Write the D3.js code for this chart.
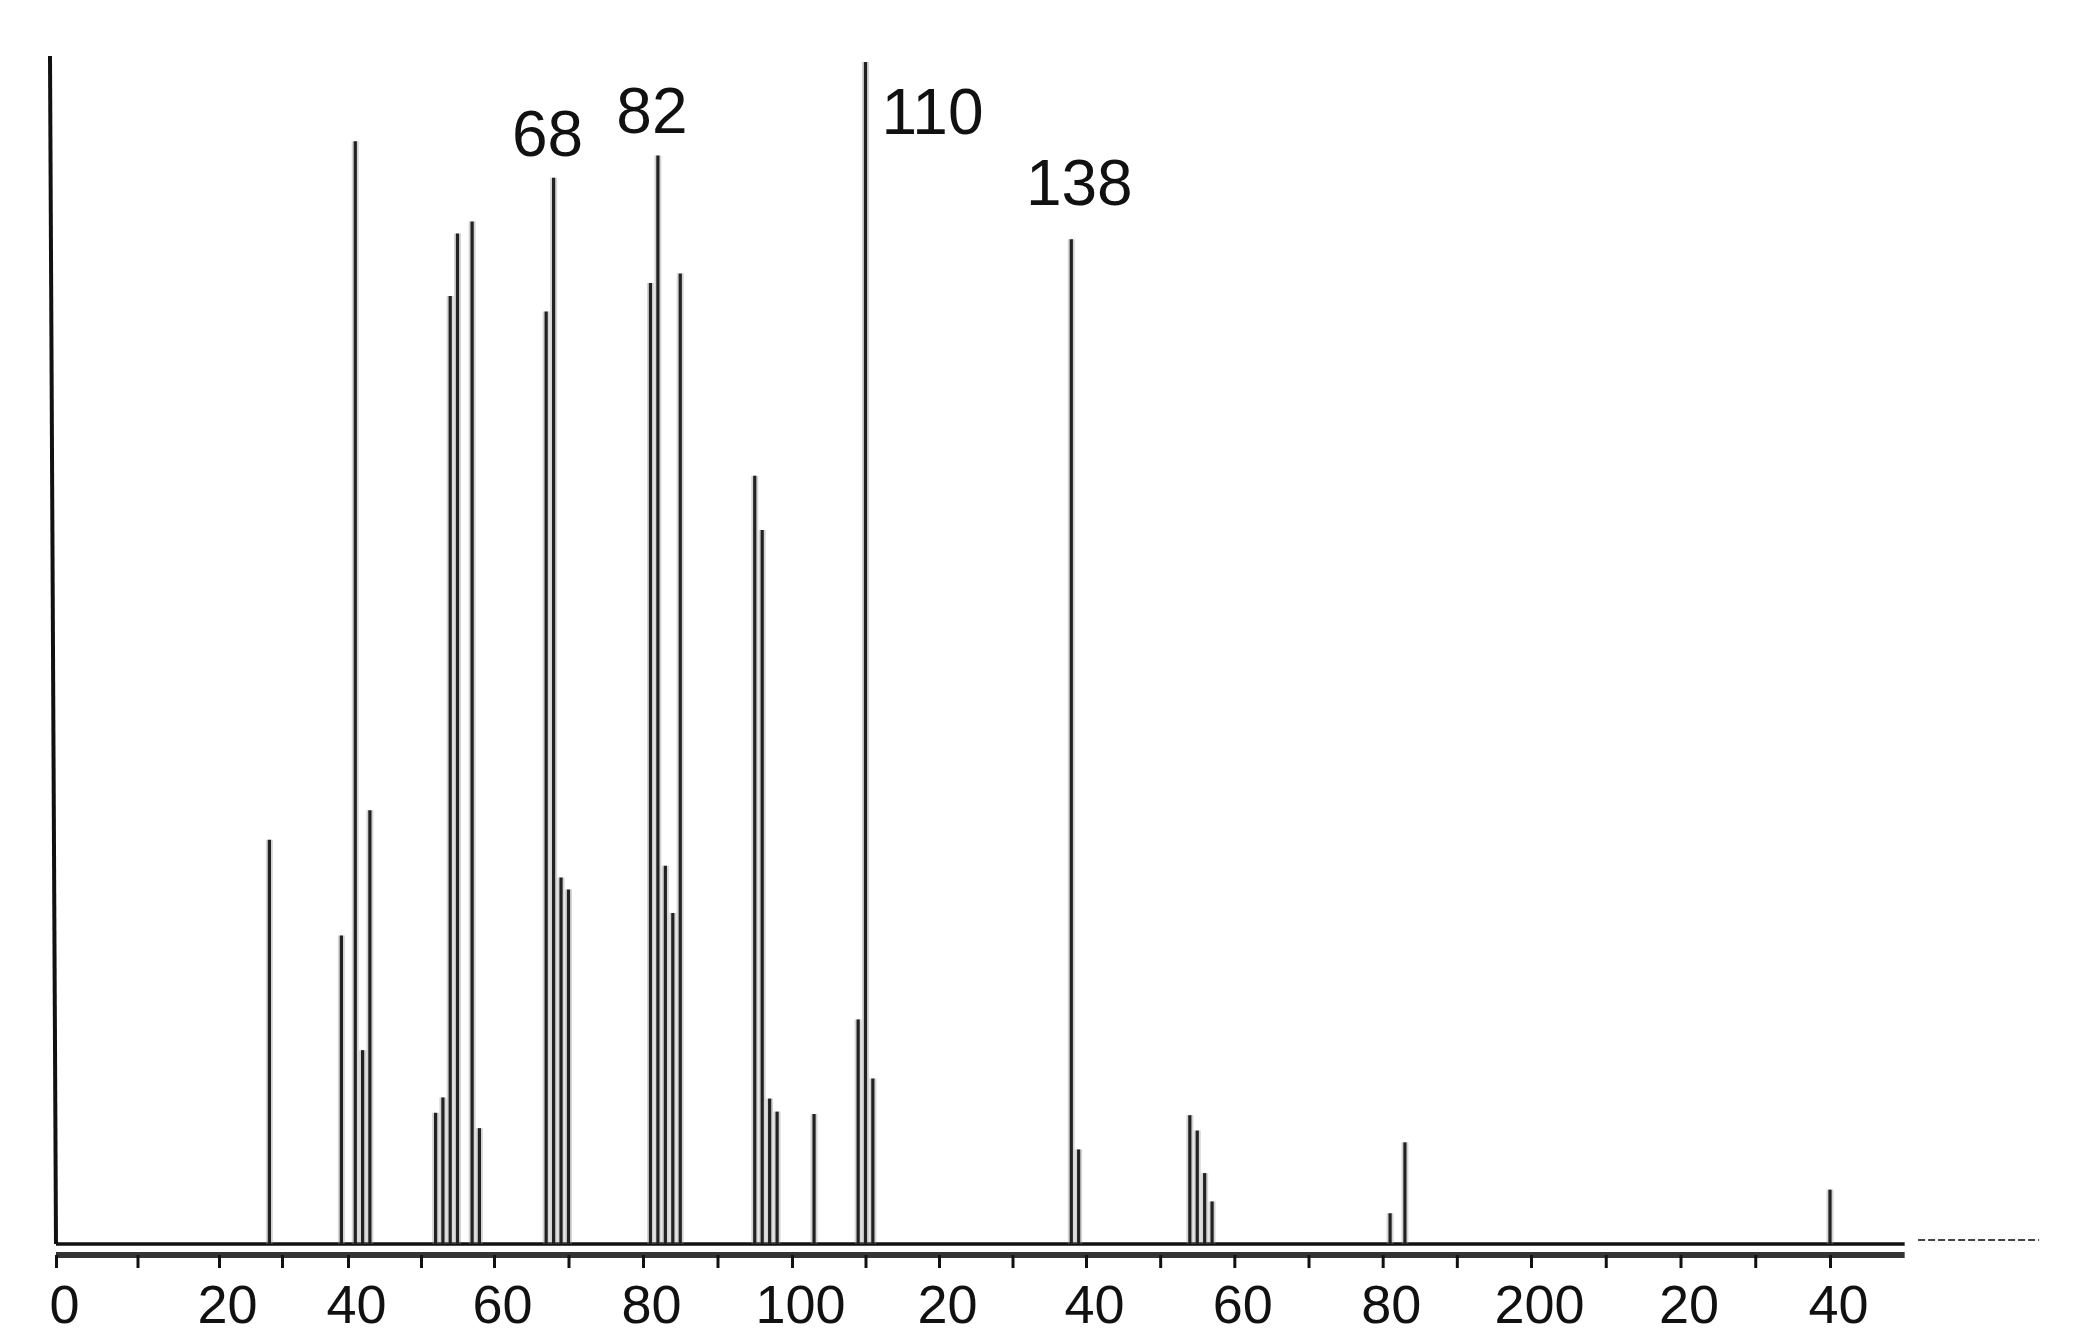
<!DOCTYPE html>
<html>
<head>
<meta charset="utf-8">
<script src="https://cdn.jsdelivr.net/npm/d3@7"></script>
<style>
  html, body { margin: 0; padding: 0; background: #fff; }
  svg { display: block; }
</style>
</head>
<body>
<script>
// ======================================================================
// DATA
// ======================================================================

// m/z of each line and its height, % of the base peak (110)
var masses = [28, 39, 41, 42, 43, 52, 53, 54, 55, 57, 58, 67, 68, 69, 70,
              81, 82, 83, 84, 85, 95, 96, 97, 98, 103, 109, 110, 111,
              138, 139, 154, 155, 156, 157, 181, 183, 240];
var intensities = [34.2, 26.1, 93.3, 16.4, 36.7, 11.1, 12.4, 80.2, 85.5, 86.5, 9.8, 78.9, 90.2, 31, 30,
                   81.3, 92.1, 32, 28, 82.1, 65, 60.4, 12.3, 11.2, 11, 19, 100, 14,
                   85, 8, 10.9, 9.6, 6, 3.6, 2.6, 8.6, 4.6];

// the start-of-scan deflection at the left edge
var startIntensity = 100.5;

// lines that carry a mass number on the chart
var labelledMasses = [68, 82, 110, 138];

// mass marker: a tick every 10, a number every 20
var tickValues = d3.range(0, 250, 10);
var tickLabels = ["0", "20", "40", "60", "80", "100", "20", "40", "60", "80", "200", "20", "40"];

var svg, x, y, peaks, g;

window.onload = function() {
    var width = 2080, height = 1338;

    svg = d3.select("body").append("svg")
        .attr("width", width)
        .attr("height", height);

    svg.append("rect").attr("width", width).attr("height", height).attr("fill", "#fff");

    // magnetic scan is not quite linear, so calibrate against the marker
    x = d3.scaleLinear()
        .domain([0, 20, 30, 40, 60, 80, 100, 140, 200, 240, 270])
        .range([56, 219, 282, 348, 494, 643, 792, 1086, 1531, 1830, 2054]);

    y = d3.scaleLinear().domain([0, 100]).range([1244, 62]);

    peaks = masses.map(function(m, i) { return {mz: m, i: intensities[i]}; });

    // ======================================================================
    // BASELINE + MARKER
    // ======================================================================

    // trace baseline
    svg.append("line")
        .attr("x1", x(0)).attr("x2", x(250))
        .attr("y1", y(0)).attr("y2", y(0))
        .attr("stroke", "#111").attr("stroke-width", 3.5);

    // the trace keeps going after the marker stops
    svg.append("line")
        .attr("x1", x(251.8)).attr("x2", x(268))
        .attr("y1", y(0) - 4).attr("y2", y(0) - 4)
        .attr("stroke", "#444").attr("stroke-width", 2)
        .attr("stroke-dasharray", "7,3");

    // marker trace under the baseline
    svg.append("line")
        .attr("x1", x(0)).attr("x2", x(250))
        .attr("y1", 1255).attr("y2", 1255)
        .attr("stroke", "#333").attr("stroke-width", 6);

    var axis = d3.axisBottom(x)
        .tickValues(tickValues)
        .tickSize(13)
        .tickSizeOuter(0)
        .tickPadding(17)
        .tickFormat(function(d) { return d % 20 === 0 ? tickLabels[d / 20] : ""; });

    g = svg.append("g")
        .attr("transform", "translate(0,1255)")
        .call(axis);

    g.select(".domain").remove();
    g.selectAll(".tick line").attr("stroke", "#111").attr("stroke-width", 3);
    g.selectAll(".tick text")
        .attr("dx", 8)
        .attr("fill", "#111")
        .style("font-family", "'Liberation Sans', Arial, sans-serif")
        .style("font-size", "54px");

    // ======================================================================
    // PEAKS
    // ======================================================================

    svg.append("line")
        .attr("x1", x(0) - 6).attr("x2", x(0))
        .attr("y1", y(startIntensity)).attr("y2", y(0))
        .attr("stroke", "#111").attr("stroke-width", 4);

    // grey smear of the photographic trace, then the line itself
    svg.append("g").selectAll("line")
        .data(peaks)
        .join("line")
        .attr("x1", function(d) { return x(d.mz); })
        .attr("x2", function(d) { return x(d.mz); })
        .attr("y1", y(0))
        .attr("y2", function(d) { return y(d.i); })
        .attr("stroke", "#888")
        .attr("stroke-opacity", 0.35)
        .attr("stroke-width", 7);

    svg.append("g").selectAll("line")
        .data(peaks)
        .join("line")
        .attr("x1", function(d) { return x(d.mz); })
        .attr("x2", function(d) { return x(d.mz); })
        .attr("y1", y(0))
        .attr("y2", function(d) { return y(d.i); })
        .attr("stroke", "#222")
        .attr("stroke-width", 3.2);

    // ======================================================================
    // MASS NUMBERS
    // ======================================================================

    var labelled = peaks.filter(function(d) { return labelledMasses.indexOf(d.mz) !== -1; });

    svg.append("g").selectAll("text")
        .data(labelled)
        .join("text")
        .attr("x", function(d) { return d.i >= 100 ? x(d.mz) + 16 : x(d.mz) + (d.mz > 100 ? 8 : -6); })
        .attr("y", function(d) { return d.i >= 100 ? y(d.i) + 72 : y(d.i) - (d.mz > 100 ? 34 : 22); })
        .attr("text-anchor", function(d) { return d.i >= 100 ? "start" : "middle"; })
        .attr("fill", "#111")
        .style("font-family", "'Liberation Sans', Arial, sans-serif")
        .style("font-size", "64px")
        .text(function(d) { return d.mz; });
};
</script>
</body>
</html>
